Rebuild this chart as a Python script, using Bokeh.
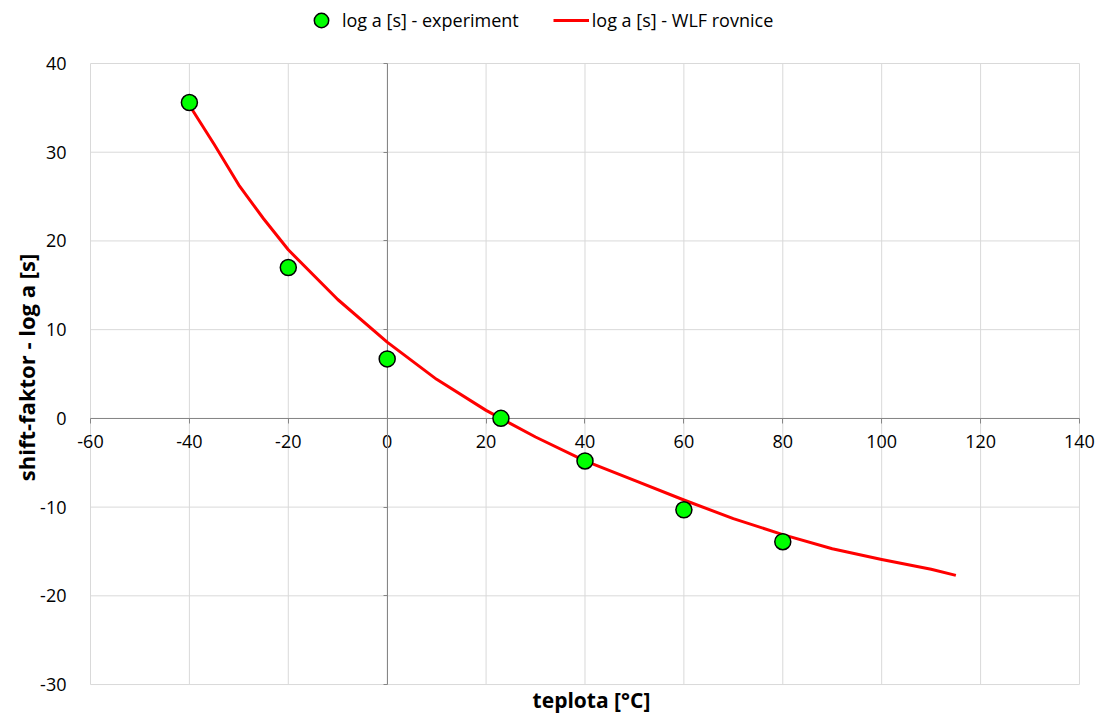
import math
from bokeh.plotting import figure
from bokeh.models import Range1d, LinearAxis, Legend, LegendItem, Label, FixedTicker
from bokeh.embed import file_html
from bokeh.resources import INLINE

# experiment
exp_t = [-40, -20, 0, 23, 40, 60, 80]
exp_loga = [35.6, 17.0, 6.7, 0.0, -4.8, -10.3, -13.9]

# WLF curve
wlf_t = [-40, -35, -30, -25, -20, -10, 0, 10, 20, 23, 30, 40, 50, 60, 70, 80, 90, 100, 110, 115]
wlf_loga = [35.3, 30.9, 26.3, 22.5, 19.0, 13.4, 8.6, 4.4, 0.9, 0.0, -2.1, -4.8, -7.0, -9.2, -11.3, -13.1, -14.7, -15.9, -17.0, -17.7]

x_ticks = [-60, -40, -20, 0, 20, 40, 60, 80, 100, 120, 140]
y_ticks = [-30, -20, -10, 0, 10, 20, 30, 40]

FONT = "Open Sans"
GRID = "#d9d9d9"
AXIS = "#868686"

W, H = 1100, 715
# the plotting frame covers the whole canvas; the chart area spans the tick limits
p = figure(width=W, height=H, output_backend="svg", toolbar_location=None,
           x_range=Range1d(-78.2, 144.25), y_range=Range1d(-33.49, 47.1),
           x_axis_location=None, y_axis_location=None,
           min_border=0)
p.outline_line_color = None
p.background_fill_color = "white"
p.border_fill_color = "white"
p.xgrid.visible = False
p.ygrid.visible = False

# grid lines limited to the chart area
p.segment(x0=x_ticks, x1=x_ticks, y0=y_ticks[0], y1=y_ticks[-1],
          line_color=GRID, line_width=1, level="image")
p.segment(x0=x_ticks[0], x1=x_ticks[-1], y0=y_ticks, y1=y_ticks,
          line_color=GRID, line_width=1, level="image")

# x axis at y = 0
xa = LinearAxis(fixed_location=0, ticker=FixedTicker(ticks=x_ticks),
                bounds=(x_ticks[0], x_ticks[-1]), level="underlay")
xa.axis_line_color = AXIS
xa.major_tick_line_color = AXIS
xa.major_tick_out = 5
xa.major_tick_in = 0
xa.minor_tick_line_color = None
xa.major_label_overrides = {v: str(v) for v in x_ticks}
xa.major_label_text_font = FONT
xa.major_label_text_font_size = "18px"
xa.major_label_text_color = "black"
xa.major_label_standoff = 12
p.add_layout(xa, "below")

# y tick labels at the left edge of the chart area
ya = LinearAxis(fixed_location=x_ticks[0], ticker=FixedTicker(ticks=y_ticks), level="underlay")
ya.axis_line_color = None
ya.major_tick_line_color = None
ya.minor_tick_line_color = None
ya.major_label_overrides = {v: str(v) for v in y_ticks}
ya.major_label_text_font = FONT
ya.major_label_text_font_size = "18px"
ya.major_label_text_color = "black"
ya.major_label_standoff = 18
p.add_layout(ya, "left")

# vertical axis line at x = 0 with tick marks
ya0 = LinearAxis(fixed_location=0, ticker=FixedTicker(ticks=y_ticks),
                 bounds=(y_ticks[0], y_ticks[-1]), level="underlay")
ya0.axis_line_color = AXIS
ya0.major_tick_line_color = AXIS
ya0.major_tick_out = 4
ya0.major_tick_in = 0
ya0.minor_tick_line_color = None
ya0.major_label_text_color = None
ya0.major_label_text_font_size = "0px"
p.add_layout(ya0, "left")

line = p.line(wlf_t, wlf_loga, line_color="#ff0000", line_width=3, line_join="round")
pts = p.scatter(exp_t, exp_loga, size=16, fill_color="#00ff00", line_color="black", line_width=1.5)

# axis titles
p.add_layout(Label(x=591, y=H - 699, x_units="screen", y_units="screen", text="teplota [°C]",
                   text_align="center", text_baseline="middle",
                   text_font=FONT, text_font_style="bold", text_font_size="21px",
                   text_color="black"))
p.add_layout(Label(x=25, y=H - 367, x_units="screen", y_units="screen",
                   text="shift-faktor - log a [s]", angle=math.pi / 2,
                   text_align="center", text_baseline="middle",
                   text_font=FONT, text_font_style="bold", text_font_size="22px",
                   text_color="black"))

legend = Legend(items=[LegendItem(label="log a [s] - experiment", renderers=[pts]),
                       LegendItem(label="log a [s] - WLF rovnice", renderers=[line])],
                orientation="horizontal", location=(303, H - 38),
                label_text_font=FONT, label_text_font_size="18px", label_text_color="black",
                border_line_color=None, background_fill_alpha=0, spacing=34,
                glyph_width=36, glyph_height=36, label_standoff=3, margin=0, padding=0)
p.add_layout(legend, "center")

open("out.html", "w").write(file_html(p, INLINE))
